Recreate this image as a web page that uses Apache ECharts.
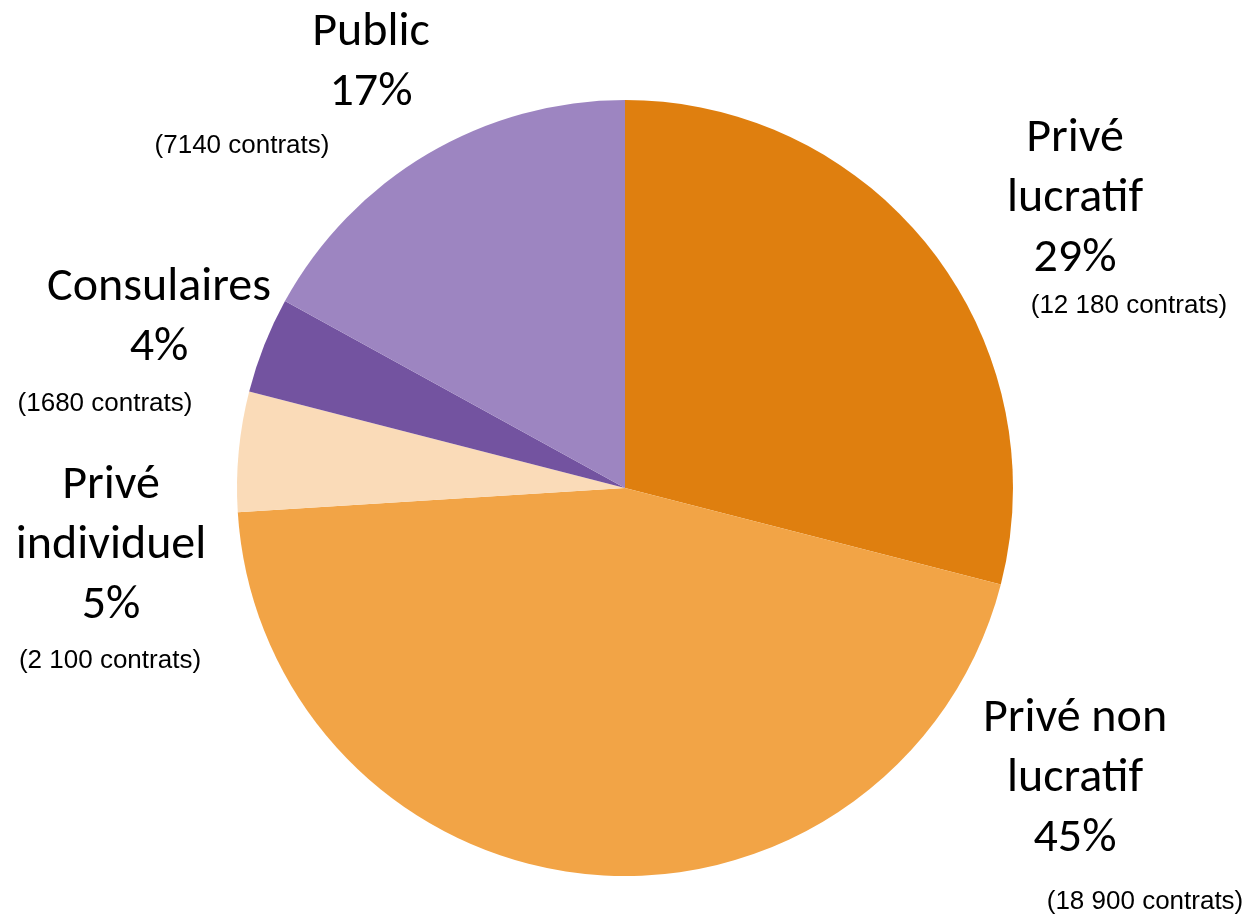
<!DOCTYPE html>
<html>
<head>
<meta charset="utf-8">
<script src="https://cdn.jsdelivr.net/npm/echarts@6/dist/echarts.min.js"></script>
<style>html,body{margin:0;padding:0;background:#fff}#c{width:1247px;height:918px}</style>
</head>
<body>
<div id="c"></div>
<script>
// ---- data ----
var categories = ['Privé lucratif', 'Privé non lucratif', 'Privé individuel', 'Consulaires', 'Public'];
var displayNames = ['Privé\nlucratif', 'Privé non\nlucratif', 'Privé\nindividuel', 'Consulaires', 'Public'];
var contrats = [12180, 18900, 2100, 1680, 7140];
var contratLabels = ['(12 180 contrats)', '(18 900 contrats)', '(2 100 contrats)', '(1680 contrats)', '(7140 contrats)'];

// ---- styling / layout (kept apart from data) ----
var colors = ['#DF7F0F', '#F2A446', '#FADBB8', '#7353A0', '#9D85C1'];
var bigPos = [[1075, 199], [1075, 779], [111, 546], [159, 318], [371, 63]];
var smallPos = [[1129, 306], [1145, 902], [110, 661], [105, 404], [242, 146]];

var chart = echarts.init(document.getElementById('c'), null, {renderer: 'canvas'});
var pieData = categories.map(function (c, i) {
  return {name: c, value: contrats[i], itemStyle: {color: colors[i]}};
});
var ghostData = categories.map(function (c, i) {
  return {name: c, value: contrats[i]};
});

chart.setOption({
  animation: false,
  series: [
    {
      type: 'pie',
      center: [625, 488],
      radius: 388,
      startAngle: 90,
      clockwise: true,
      data: pieData,
      itemStyle: {borderWidth: 0},
      labelLine: {show: false},
      label: {
        show: true,
        position: 'outside',
        overflow: 'none',
        formatter: function (p) {
          return displayNames[p.dataIndex] + '\n' + Math.round(p.percent) + '%';
        },
        fontFamily: 'Carlito, Lato, sans-serif',
        fontSize: 48,
        lineHeight: 60,
        color: '#000',
        align: 'center'
      },
      labelLayout: function (p) {
        var pos = bigPos[p.dataIndex];
        return {x: pos[0], y: pos[1], align: 'center', verticalAlign: 'middle', hideOverlap: false};
      }
    },
    {
      type: 'pie',
      center: [625, 488],
      radius: 388,
      startAngle: 90,
      clockwise: true,
      silent: true,
      z: 3,
      data: ghostData,
      itemStyle: {color: 'rgba(0,0,0,0)'},
      labelLine: {show: false},
      label: {
        show: true,
        position: 'outside',
        overflow: 'none',
        formatter: function (p) { return contratLabels[p.dataIndex]; },
        fontFamily: '"Liberation Sans", Arial, sans-serif',
        fontSize: 26,
        color: '#000'
      },
      labelLayout: function (p) {
        var pos = smallPos[p.dataIndex];
        return {x: pos[0], y: pos[1], align: 'center', verticalAlign: 'middle', hideOverlap: false};
      }
    }
  ]
});
</script>
</body>
</html>
